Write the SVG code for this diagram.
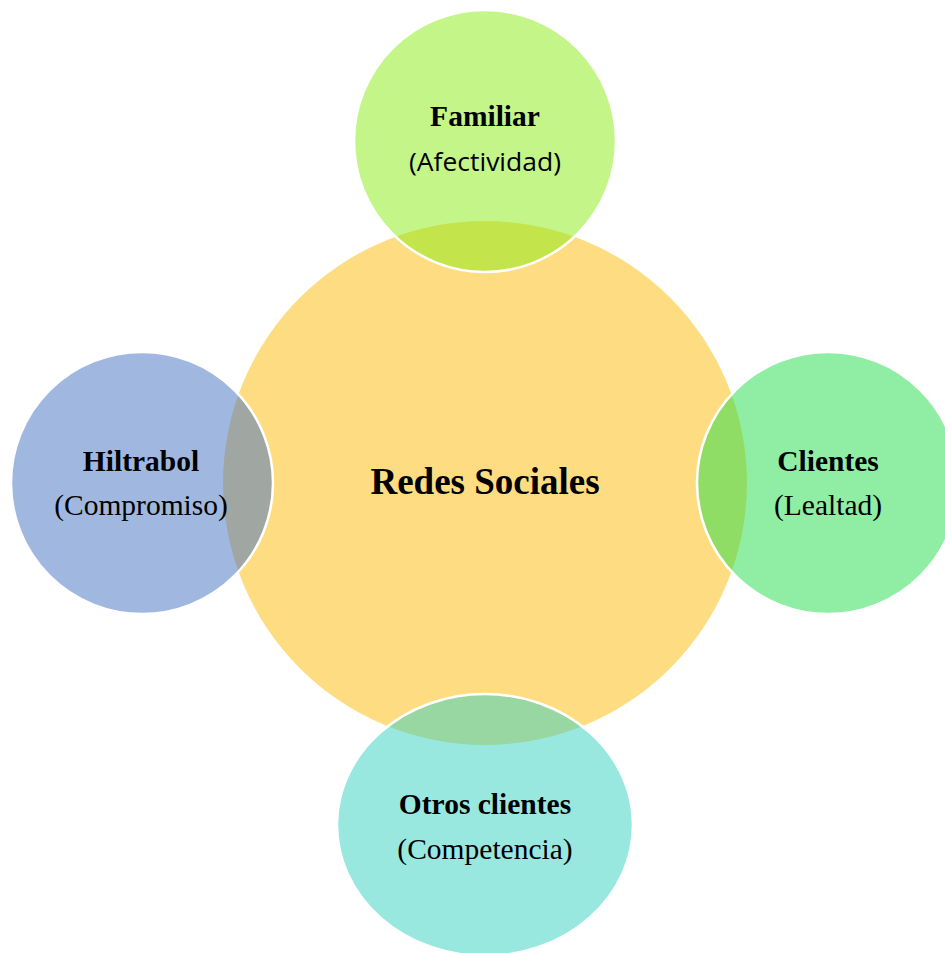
<svg xmlns="http://www.w3.org/2000/svg" width="945" height="953" viewBox="0 0 945 953">
<style>
.sat{stroke:#ffffff;stroke-width:2.5;fill-opacity:0.5}
.b{font-family:"Liberation Serif","Times New Roman",serif;font-weight:bold;font-size:29.5px;fill:#000;text-anchor:middle}
.r{font-family:"Liberation Serif","Times New Roman",serif;font-size:29.5px;fill:#000;text-anchor:middle}
.s{font-family:"Open Sans","Noto Sans",sans-serif;font-size:26px;fill:#000;text-anchor:middle}
</style>
<rect width="945" height="953" fill="#ffffff"/>
<g id="center">
<circle cx="485" cy="483" r="262" fill="#FEDD82"/>
<text x="485" y="494" font-family="Liberation Serif, Times New Roman, serif" font-weight="bold" font-size="37" text-anchor="middle" fill="#000">Redes Sociales</text>
</g>
<g id="connectors"></g>
<g id="familiar">
<circle class="sat" cx="485" cy="141" r="131" fill="#87EB13"/>
<text class="b" x="485" y="126">Familiar</text>
<text class="s" x="485" y="171" textLength="152" lengthAdjust="spacingAndGlyphs">(Afectividad)</text>
</g>
<g id="hiltrabol">
<circle class="sat" cx="142" cy="483" r="131" fill="#4171C1"/>
<text class="b" x="141" y="471">Hiltrabol</text>
<text class="r" x="141" y="515">(Compromiso)</text>
</g>
<g id="clientes">
<circle class="sat" cx="828" cy="483" r="131" fill="#21DD49"/>
<text class="b" x="828" y="471">Clientes</text>
<text class="r" x="828" y="515">(Lealtad)</text>
</g>
<g id="otros">
<ellipse class="sat" cx="485" cy="825" rx="148" ry="131" fill="#33D1C1"/>
<text class="b" x="485" y="814">Otros clientes</text>
<text class="r" x="485" y="859">(Competencia)</text>
</g>
</svg>
